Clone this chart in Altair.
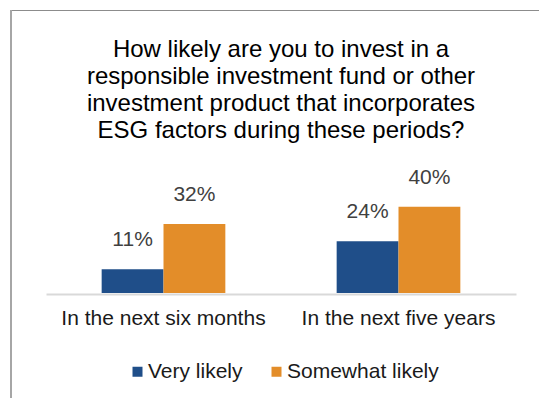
import altair as alt
import pandas as pd

periods = ["In the next six months", "In the next five years"]
series = ["Very likely", "Somewhat likely"]
very_likely = [11, 24]
somewhat_likely = [32, 40]
colors = ["#1F4E89", "#E38D29"]
title_lines = [
    "How likely are you to invest in a",
    "responsible investment fund or other",
    "investment product that incorporates",
    "ESG factors during these periods?",
]

rows = []
for i, p in enumerate(periods):
    rows.append({"period": p, "series": series[0], "value": very_likely[i]})
    rows.append({"period": p, "series": series[1], "value": somewhat_likely[i]})
df = pd.DataFrame(rows)
df["label"] = df["value"].astype(str) + "%"

FONT = "Liberation Sans"

base = alt.Chart(df).encode(
    x=alt.X(
        "period:N",
        sort=periods,
        title=None,
        scale=alt.Scale(paddingInner=0, paddingOuter=0),
        axis=alt.Axis(
            labelAngle=0,
            labelFont=FONT,
            labelFontSize=21,
            labelColor="#1a1a1a",
            labelPadding=13,
            labelLimit=400,
            ticks=False,
            tickSize=0,
            domainColor="#d9d9d9",
            domainWidth=2,
            offset=1,
            grid=False,
        ),
    ),
    xOffset=alt.XOffset(
        "series:N", sort=series, scale=alt.Scale(paddingInner=0, paddingOuter=0.9)
    ),
)

bars = base.mark_bar().encode(
    y=alt.Y("value:Q", scale=alt.Scale(domain=[0, 45]), axis=None),
    color=alt.Color(
        "series:N",
        sort=series,
        scale=alt.Scale(domain=series, range=colors),
        legend=alt.Legend(
            title=None,
            orient="none",
            legendX=81,
            legendY=165,
            direction="horizontal",
            symbolType="square",
            symbolSize=100,
            symbolStrokeWidth=0,
            labelFont=FONT,
            labelFontSize=21,
            labelColor="#1a1a1a",
            labelOffset=0,
            columnPadding=23,
            padding=0,
        ),
    ),
)

labels = base.mark_text(
    dy=-23, baseline="alphabetic", fontSize=21, color="#404040", font=FONT
).encode(y=alt.Y("value:Q"), text="label:N")

border_df = pd.DataFrame({"k": [0]})
top_rule = alt.Chart(border_df).mark_rule(color="#8c8c8c", strokeWidth=1).encode(
    x=alt.value(-36), x2=alt.value(500), y=alt.value(-185.5)
)
left_rule = alt.Chart(border_df).mark_rule(color="#a6a6a6", strokeWidth=2).encode(
    x=alt.value(-35), y=alt.value(-186), y2=alt.value(210)
)

chart = (
    alt.layer(top_rule, left_rule, bars, labels)
    .properties(
        width=470,
        height=97,
        title=alt.TitleParams(
            text=title_lines,
            font=FONT,
            fontSize=24,
            fontWeight="normal",
            color="#000000",
            lineHeight=27,
            anchor="middle",
            dy=138,
        ),
        autosize=alt.AutoSizeParams(type="none"),
        padding={"left": 38, "top": 188, "right": 23, "bottom": 105},
    )
    .configure_view(stroke=None)
)

chart.save("out.html", embed_options={"renderer": "svg", "actions": False})
